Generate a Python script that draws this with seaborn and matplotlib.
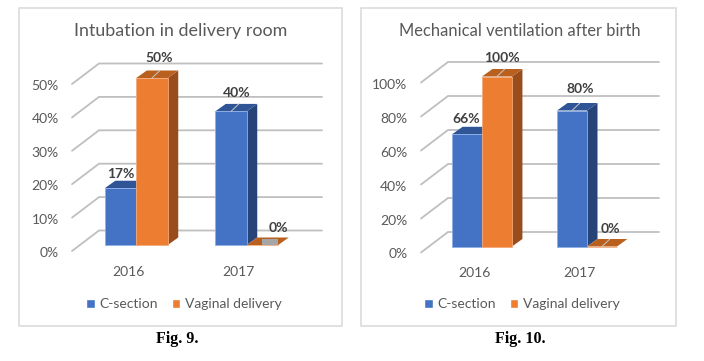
import numpy as np
import pandas as pd
import matplotlib
matplotlib.use('Agg')
import matplotlib.pyplot as plt
import seaborn as sns
from matplotlib.patches import Polygon, Rectangle
from matplotlib.transforms import ScaledTranslation

years = ['2016', '2017']
methods = ['C-section', 'Vaginal delivery']
intubation_c = [17, 40]
intubation_v = [50, 0]
ventilation_c = [66, 80]
ventilation_v = [100, 0]
intubation_ticks = [0, 10, 20, 30, 40, 50]
ventilation_ticks = [0, 20, 40, 60, 80, 100]

BLUE = '#4472c4'
ORANGE = '#ed7d31'
SIDES = {BLUE: '#264478', ORANGE: '#9a4d1c'}
TOPS = {BLUE: '#2f5597', ORANGE: '#b9601f'}
W, H = 704, 361

sns.set_theme(style='white')
plt.rcParams['font.family'] = ['Lato', 'DejaVu Sans']

fig = plt.figure(figsize=(W / 100, H / 100), dpi=100)


def make_df(c_vals, v_vals):
    return pd.DataFrame({
        'year': years * 2,
        'method': [methods[0]] * 2 + [methods[1]] * 2,
        'value': c_vals + v_vals,
    })


def draw_panel(box, frame, title, title_x, title_size, legend_x, c_vals, v_vals, ticks, grid_x, label_off, gray_box):
    # box = left, right, top, bottom of the front bar plane in pixels
    left, right, top, bottom = box
    ax = fig.add_axes([left / W, 1 - bottom / H, (right - left) / W, (bottom - top) / H])
    ax.patch.set_alpha(0)
    sns.barplot(data=make_df(c_vals, v_vals), x='year', y='value', hue='method',
                hue_order=methods, palette=[BLUE, ORANGE], width=0.57, gap=0,
                saturation=1, ax=ax, zorder=4)
    ax.set_xlim(-0.5, 1.5)
    ax.set_ylim(0, ticks[-1])
    ax.set_xlabel('')
    ax.set_ylabel('')
    sns.despine(ax=ax, left=True, bottom=True)

    sx = 2 / (right - left)
    sy = ticks[-1] / (bottom - top)
    to_x = lambda px: (px - left) * sx - 0.5
    dx, dy = 10.5 * sx, 7.5 * sy

    # back wall gridlines and the slanted floor lines
    for v in ticks:
        y_back = v + 14.5 * sy
        y_front = v - 6 * sy
        ax.plot([to_x(grid_x[0]), to_x(grid_x[1]), to_x(grid_x[2])], [y_front, y_back, y_back],
                color='#bfbfbf', lw=1.3, clip_on=False, zorder=1, solid_joinstyle='miter')

    # depth faces are built from the bars seaborn has drawn
    for n, (cont, color) in enumerate(zip(ax.containers, [BLUE, ORANGE])):
        for bar in cont:
            x0, x1 = bar.get_x(), bar.get_x() + bar.get_width()
            h = bar.get_height()
            bar.set_edgecolor('#8fb0e6' if color == BLUE else '#f4a878')
            bar.set_linewidth(0.6)
            bar.set_zorder(4 + 2 * n)
            bar.set_clip_on(False)
            ax.add_patch(Polygon([(x1, 0), (x1 + dx, dy), (x1 + dx, h + dy), (x1, h)],
                                 color=SIDES[color], lw=0, zorder=3 + 2 * n, clip_on=False))
            ax.add_patch(Polygon([(x0, h), (x0 + dx, h + dy), (x1 + dx, h + dy), (x1, h)],
                                 color=TOPS[color], lw=0, zorder=3 + 2 * n, clip_on=False))

    bars = list(ax.containers[0]) + list(ax.containers[1])
    values = c_vals + v_vals
    for bar, val, (ox, oy, lead) in zip(bars, values, label_off):
        xc = bar.get_x() + bar.get_width() / 2
        ax.text(xc + ox * sx, val + oy * sy, f'{val}%', ha='center', va='center',
                fontsize=10, fontweight='bold', color='#404040', zorder=9, clip_on=False)
        if lead:
            ax.plot([xc, xc + dx * 0.75], [val, val + dy], color='#c8c8c8', lw=0.7,
                    zorder=8, clip_on=False)

    if gray_box:
        # grey box left over on the flat bar of 2017
        flat = ax.containers[1][1]
        ax.add_patch(Rectangle((flat.get_x() + flat.get_width() / 2, 0), flat.get_width() / 2, 6 * sy,
                               color='#a6a6a6', lw=0, zorder=8, clip_on=False))

    ax.set_yticks(ticks, [f'{t}%' for t in ticks])
    ax.tick_params(axis='y', length=0, pad=16, labelsize=10, labelcolor='#595959')
    ax.tick_params(axis='x', length=0, pad=15, labelsize=10, labelcolor='#595959')
    for lab in ax.get_yticklabels():
        lab.set_transform(lab.get_transform() + ScaledTranslation(0, -7 / 100, fig.dpi_scale_trans))
    for lab in ax.get_xticklabels():
        lab.set_transform(lab.get_transform() + ScaledTranslation(-8 / 100, 0, fig.dpi_scale_trans))

    handles, labels = ax.get_legend_handles_labels()
    ax.legend(handles, labels, ncols=2, frameon=False, loc='center',
              bbox_to_anchor=(legend_x / W, 1 - 304 / H),
              bbox_transform=fig.transFigure, fontsize=10, handlelength=0.62, handleheight=0.62,
              handletextpad=0.35, columnspacing=1.0, labelcolor='#595959', borderpad=0)

    fig.add_artist(Rectangle((frame[0] / W, 1 - 326 / H), (frame[1] - frame[0]) / W, 318 / H,
                             fill=False, edgecolor='#d9d9d9', lw=1.1, transform=fig.transFigure))
    fig.text(title_x / W, 1 - 31 / H, title, ha='center', va='center', fontsize=title_size, color='#595959')


draw_panel((81, 302, 78, 245), (19, 342), 'Intubation in delivery room', 181, 12.9, 184,
           intubation_c, intubation_v, intubation_ticks, (72, 99, 322),
           [(0, 14, False), (6, 18, True), (7, 20, True), (16, 17, False)], True)
draw_panel((429.5, 639.5, 76.5, 246.5), (361, 676), 'Mechanical ventilation after birth', 519.5, 11.9, 522,
           ventilation_c, ventilation_v, ventilation_ticks, (421, 448, 659),
           [(-1, 15, False), (8, 22, True), (5, 18.5, True), (8, 17.5, True)], False)

for x, cap in [(177, 'Fig. 9.'), (520, 'Fig. 10.')]:
    fig.text(x / W, 1 - 339 / H, cap, ha='center', va='center', fontsize=11.5,
             fontweight='bold', family='Liberation Serif', color='black')

fig.savefig('out.png', dpi=100, facecolor='white')
